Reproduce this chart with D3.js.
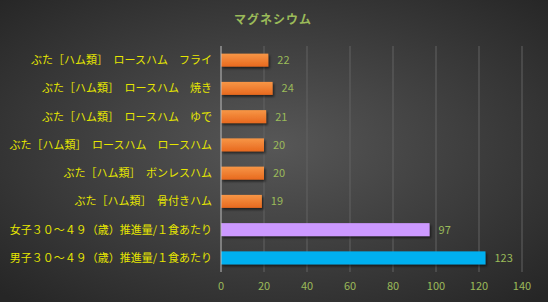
<!DOCTYPE html>
<html>
<head>
<meta charset="utf-8">
<script src="https://cdn.jsdelivr.net/npm/d3@7"></script>
<style>
  html, body { margin: 0; padding: 0; background: #262626; }
  svg { display: block; }
</style>
</head>
<body>
<div id="chart"></div>
<script>
// Chart data
const title = "マグネシウム";
const categories = [
    "ぶた［ハム類］　ロースハム　フライ",
    "ぶた［ハム類］　ロースハム　焼き",
    "ぶた［ハム類］　ロースハム　ゆで",
    "ぶた［ハム類］　ロースハム　ロースハム",
    "ぶた［ハム類］　ボンレスハム",
    "ぶた［ハム類］　骨付きハム",
    "女子３０～４９（歳）推進量/１食あたり",
    "男子３０～４９（歳）推進量/１食あたり"
];
const values = [22, 24, 21, 20, 20, 19, 97, 123];
const barKinds = ["food", "food", "food", "food", "food", "food", "female", "male"];
const xTicks = [0, 20, 40, 60, 80, 100, 120, 140];

const width = 548, height = 302;
const margin = { top: 46, right: 26, bottom: 30, left: 221 };
const font = "'Noto Sans CJK JP', sans-serif";

const svg = d3.select("#chart")
    .append("svg")
    .attr("width", width)
    .attr("height", height);

const defs = svg.append("defs");

// Background radial gradient
const bg = defs.append("radialGradient")
    .attr("id", "bg")
    .attr("cx", "50%").attr("cy", "48%").attr("r", "70%");
bg.append("stop").attr("offset", "0%").attr("stop-color", "#575757");
bg.append("stop").attr("offset", "100%").attr("stop-color", "#262626");

// Orange bar gradient
const og = defs.append("linearGradient")
    .attr("id", "orange")
    .attr("x1", 0).attr("y1", 0).attr("x2", 0).attr("y2", 1);
og.append("stop").attr("offset", "0%").attr("stop-color", "#f79646");
og.append("stop").attr("offset", "100%").attr("stop-color", "#e8691f");

const shadow = defs.append("filter")
    .attr("id", "shadow")
    .attr("x", "-10%").attr("y", "-30%").attr("width", "130%").attr("height", "180%");
shadow.append("feDropShadow")
    .attr("dx", 1.5).attr("dy", 2).attr("stdDeviation", 1.2)
    .attr("flood-color", "#000").attr("flood-opacity", 0.55);

svg.append("rect")
    .attr("width", width).attr("height", height)
    .attr("fill", "url(#bg)");

const x = d3.scaleLinear()
    .domain([0, 140])
    .range([margin.left, width - margin.right]);

const y = d3.scaleBand()
    .domain(categories)
    .range([margin.top, height - margin.bottom])
    .paddingInner(0.54)
    .paddingOuter(0.27);

const colorOf = {
    food: "url(#orange)",
    female: "#cc99ff",
    male: "#00b0f0"
};

// Gridlines
svg.append("g")
    .selectAll("line")
    .data(xTicks.slice(1))
    .join("line")
    .attr("x1", d => x(d)).attr("x2", d => x(d))
    .attr("y1", margin.top).attr("y2", height - margin.bottom)
    .attr("stroke", "#636363")
    .attr("stroke-width", 1);

// Bars
svg.append("g")
    .selectAll("rect")
    .data(values)
    .join("rect")
    .attr("x", x(0))
    .attr("y", (d, i) => y(categories[i]))
    .attr("width", d => x(d) - x(0))
    .attr("height", y.bandwidth())
    .attr("fill", (d, i) => colorOf[barKinds[i]])
    .attr("filter", "url(#shadow)");

// Vertical axis line
svg.append("line")
    .attr("x1", x(0)).attr("x2", x(0))
    .attr("y1", margin.top).attr("y2", height - margin.bottom)
    .attr("stroke", "#bfbfbf")
    .attr("stroke-width", 1);

// Value labels
svg.append("g")
    .selectAll("text")
    .data(values)
    .join("text")
    .attr("x", d => x(d) + 9)
    .attr("y", (d, i) => y(categories[i]) + y.bandwidth() / 2)
    .attr("dy", "0.36em")
    .attr("fill", "#9bbb59")
    .style("font", `11px ${font}`)
    .text(d => d);

// Category labels
svg.append("g")
    .selectAll("text")
    .data(categories)
    .join("text")
    .attr("x", x(0) - 9)
    .attr("y", d => y(d) + y.bandwidth() / 2)
    .attr("dy", "0.36em")
    .attr("text-anchor", "end")
    .attr("fill", "#e6e600")
    .style("font", `11px ${font}`)
    .text(d => d);

// X tick labels
svg.append("g")
    .selectAll("text")
    .data(xTicks)
    .join("text")
    .attr("x", d => x(d))
    .attr("y", height - margin.bottom + 14)
    .attr("dy", "0.36em")
    .attr("text-anchor", "middle")
    .attr("fill", "#9bbb59")
    .style("font", `11px ${font}`)
    .text(d => d);

// Title
svg.append("text")
    .attr("x", 273)
    .attr("y", 20)
    .attr("dy", "0.36em")
    .attr("text-anchor", "middle")
    .attr("fill", "#9bbb59")
    .style("font", `bold 12px ${font}`)
    .style("letter-spacing", "1px")
    .text(title);
</script>
</body>
</html>
